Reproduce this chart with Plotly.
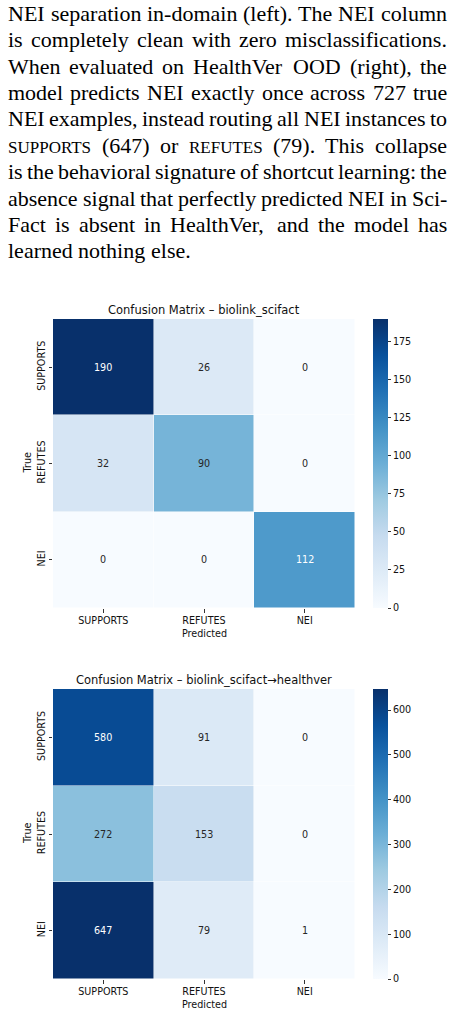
import plotly.graph_objects as go

W, H = 453, 1014

# ---------------- data ----------------
paragraph_lines = [
    "NEI separation in-domain (left). The NEI column",
    "is completely clean with zero misclassifications.",
    "When evaluated on HealthVer OOD (right), the",
    "model predicts NEI exactly once across 727 true",
    "NEI examples, instead routing all NEI instances to",
    "SUPPORTS (647) or REFUTES (79). This collapse",
    "is the behavioral signature of shortcut learning: the",
    "absence signal that perfectly predicted NEI in Sci-",
    "Fact is absent in HealthVer, and the model has",
    "learned nothing else.",
]
small_caps_words = ["SUPPORTS", "REFUTES"]

class_labels = ["SUPPORTS", "REFUTES", "NEI"]
scifact_counts = [[190, 26, 0], [32, 90, 0], [0, 0, 112]]
healthver_counts = [[580, 91, 0], [272, 153, 0], [647, 79, 1]]
panel_titles = ["Confusion Matrix – biolink_scifact",
                "Confusion Matrix – biolink_scifact→healthver"]
cbar_dticks = [25, 100]

# ---------------- styling ----------------
blues = ["#f7fbff", "#deebf7", "#c6dbef", "#9ecae1", "#6baed6",
         "#4292c6", "#2171b5", "#08519c", "#08306b"]
colorscale = [[i / 8, c] for i, c in enumerate(blues)]

# Times metrics (1/1000 em) for justified paragraph layout
tw = {' ': 250, 'a': 444, 'b': 500, 'c': 444, 'd': 500, 'e': 444, 'f': 333, 'g': 500,
      'h': 500, 'i': 278, 'j': 278, 'k': 500, 'l': 278, 'm': 778, 'n': 500, 'o': 500,
      'p': 500, 'q': 500, 'r': 333, 's': 389, 't': 278, 'u': 500, 'v': 500, 'w': 722,
      'x': 500, 'y': 500, 'z': 444,
      'A': 722, 'B': 667, 'C': 667, 'D': 722, 'E': 611, 'F': 556, 'G': 722, 'H': 722,
      'I': 333, 'J': 389, 'K': 722, 'L': 611, 'M': 889, 'N': 722, 'O': 722, 'P': 556,
      'Q': 722, 'R': 667, 'S': 556, 'T': 611, 'U': 722, 'V': 722, 'W': 944, 'X': 722,
      'Y': 722, 'Z': 611, '(': 333, ')': 333, '.': 250, ',': 250, ':': 278, '-': 333}
for d in "0123456789":
    tw[d] = 500

FS = 22.0
SC = 17.0
X0, X1 = 7.0, 446.0
BASE0, LEAD = 20.8, 26.4
serif = "'Liberation Serif', 'Times New Roman', serif"
sans = "'DejaVu Sans', sans-serif"


def wwidth(word, size):
    return sum(tw.get(ch, 500) for ch in word) * size / 1000.0


annotations = []
for li, line in enumerate(paragraph_lines):
    words = line.split(" ")
    sizes = [SC if w in small_caps_words else FS for w in words]
    widths = [wwidth(w, s) for w, s in zip(words, sizes)]
    if li < len(paragraph_lines) - 1:
        gap = (X1 - X0 - sum(widths)) / (len(words) - 1)
    else:
        gap = 0.25 * FS
    base = BASE0 + li * LEAD
    x = X0
    for w, s, wd in zip(words, sizes, widths):
        yc = base - 0.3375 * s
        annotations.append(dict(
            text=w, x=x / W, y=1 - yc / H, xref="paper", yref="paper",
            xanchor="left", yanchor="middle", showarrow=False, borderpad=0,
            font=dict(family=serif, size=s, color="black")))
        x += wd + gap


def hex2rgb(h):
    h = h.lstrip("#")
    return [int(h[i:i + 2], 16) for i in (0, 2, 4)]


def cmap(t):
    t = min(max(t, 0), 1) * 8
    i = min(int(t), 7)
    f = t - i
    a, b = hex2rgb(blues[i]), hex2rgb(blues[i + 1])
    return [a[k] + (b[k] - a[k]) * f for k in range(3)]


def lum(rgb):
    out = []
    for v in rgb:
        v = v / 255
        out.append(v / 12.92 if v <= 0.03928 else ((v + 0.055) / 1.055) ** 2.4)
    return 0.2126 * out[0] + 0.7152 * out[1] + 0.0722 * out[2]


fig = go.Figure()

panels = [  # pixel boxes: (top, bottom)
    (319, 608),
    (689, 979),
]
PX0, PX1 = 53, 355
CBX = 373

for pi, (counts, (top, bot)) in enumerate(zip([scifact_counts, healthver_counts], panels)):
    sfx = "" if pi == 0 else str(pi + 1)
    zmax = max(max(r) for r in counts)
    fig.add_trace(go.Heatmap(
        z=counts, x=class_labels, y=class_labels,
        xaxis="x" + sfx, yaxis="y" + sfx,
        colorscale=colorscale, zmin=0, zmax=zmax,
        xgap=0.5, ygap=0.5, hoverinfo="skip",
        colorbar=dict(
            x=CBX / W, xanchor="left", y=1 - (top + bot) / 2 / H, yanchor="middle",
            len=bot - top, lenmode="pixels", thickness=15, thicknessmode="pixels",
            xpad=0, ypad=0, outlinewidth=0, ticks="outside", ticklen=3.5,
            tickwidth=0.8, tickcolor="#333", tick0=0, dtick=cbar_dticks[pi],
            tickfont=dict(family=sans, size=9.6, color="#111")),
    ))
    fig.update_layout(**{
        "xaxis" + sfx: dict(domain=[PX0 / W, PX1 / W], anchor="y" + sfx,
                            showgrid=False, zeroline=False, showline=False,
                            ticks="outside", ticklen=3.5, tickwidth=0.8, tickcolor="#333",
                            tickfont=dict(family=sans, size=9.6, color="#111"),
                            categoryorder="array", categoryarray=class_labels),
        "yaxis" + sfx: dict(domain=[1 - bot / H, 1 - top / H], anchor="x" + sfx,
                            showgrid=False, zeroline=False, showline=False,
                            autorange="reversed", tickangle=-90,
                            ticks="outside", ticklen=3.5, tickwidth=0.8, tickcolor="#333",
                            tickfont=dict(family=sans, size=9.6, color="#111"),
                            categoryorder="array", categoryarray=class_labels),
    })
    for ri, row in enumerate(counts):
        for ci, v in enumerate(row):
            col = "white" if lum(cmap(v / zmax)) < 0.408 else "#262626"
            annotations.append(dict(
                text=str(v), x=class_labels[ci], y=class_labels[ri],
                xref="x" + sfx, yref="y" + sfx, showarrow=False,
                font=dict(family=sans, size=9.6, color=col)))
    # title and axis labels
    annotations.append(dict(text=panel_titles[pi], x=(PX0 + PX1) / 2 / W,
                            y=1 - (top - 9) / H, xref="paper", yref="paper",
                            xanchor="center", yanchor="middle", showarrow=False,
                            font=dict(family=sans, size=11.5, color="#111")))
    annotations.append(dict(text="Predicted", x=(PX0 + PX1) / 2 / W,
                            y=1 - (bot + 25) / H, xref="paper", yref="paper",
                            xanchor="center", yanchor="middle", showarrow=False,
                            font=dict(family=sans, size=9.6, color="#111")))
    annotations.append(dict(text="True", x=27 / W, y=1 - (top + bot) / 2 / H,
                            xref="paper", yref="paper", textangle=-90,
                            xanchor="center", yanchor="middle", showarrow=False,
                            font=dict(family=sans, size=9.6, color="#111")))

fig.update_layout(
    width=W, height=H, margin=dict(l=0, r=0, t=0, b=0),
    paper_bgcolor="white", plot_bgcolor="white",
    showlegend=False, annotations=annotations,
)

fig.write_html("out.html")
